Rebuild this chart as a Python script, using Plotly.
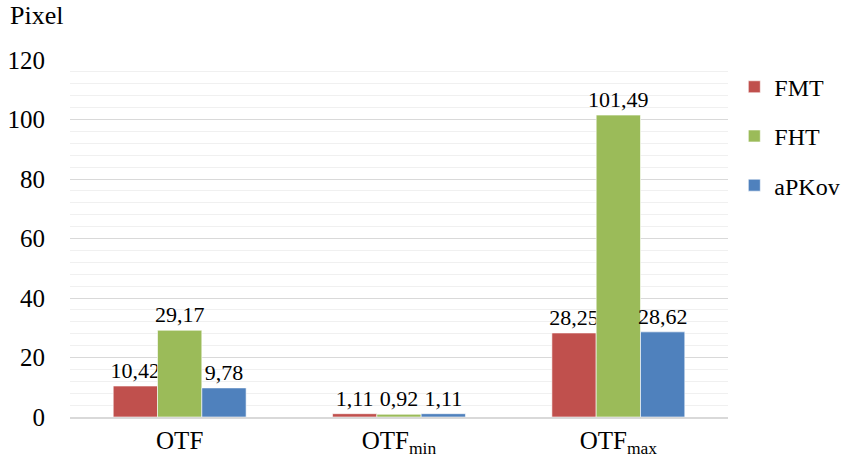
import plotly.graph_objects as go

categories = ["OTF", "OTF<sub>min</sub>", "OTF<sub>max</sub>"]
series_names = ["FMT", "FHT", "aPKov"]
fmt_values = [10.42, 1.11, 28.25]
fht_values = [29.17, 0.92, 101.49]
apkov_values = [9.78, 1.11, 28.62]
y_ticks = [0, 20, 40, 60, 80, 100, 120]

colors = ["#C0504D", "#9BBB59", "#4F81BD"]
FONT = "Liberation Serif"

fig = go.Figure()
for i, (name, vals) in enumerate(zip(series_names, [fmt_values, fht_values, apkov_values])):
    fig.add_trace(go.Bar(
        name=name,
        x=categories,
        y=vals,
        marker=dict(color=colors[i], line=dict(color="rgba(255,255,255,0.6)", width=1)),
        texttemplate="%{y:.2f}",
        textposition="outside",
        textfont=dict(family=FONT, size=22, color="#000000"),
        constraintext="none",
        cliponaxis=False,
        legendgroup=name,
    ))

fig.update_layout(
    width=845,
    height=462,
    separators=", ",
    barmode="group",
    bargap=0.394,
    bargroupgap=0,
    plot_bgcolor="white",
    paper_bgcolor="white",
    font=dict(family=FONT, size=24, color="#000000"),
    margin=dict(l=70, r=117, t=60, b=45, autoexpand=False),
    showlegend=True,
    legend=dict(
        xref="container", yref="container",
        x=0.869, xanchor="left", y=0.86, yanchor="top",
        font=dict(family=FONT, size=24),
        tracegroupgap=15,
        itemwidth=30,
        bgcolor="rgba(0,0,0,0)",
    ),
    xaxis=dict(
        showgrid=False,
        showline=True,
        linecolor="#D9D9D9",
        linewidth=1.5,
        ticks="",
        tickfont=dict(family=FONT, size=25),
    ),
    yaxis=dict(
        range=[0, 120],
        tickvals=y_ticks,
        showgrid=True,
        gridcolor="#D9D9D9",
        gridwidth=1,
        minor=dict(dtick=4, showgrid=True, gridcolor="#F0F0F0", gridwidth=1),
        zeroline=False,
        showline=False,
        ticks="",
        ticklabelstandoff=24,
        tickfont=dict(family=FONT, size=25),
    ),
    annotations=[dict(
        text="Pixel", xref="paper", yref="paper",
        x=0, y=1.0, xshift=-62, yshift=45, xanchor="left", yanchor="middle",
        showarrow=False, font=dict(family=FONT, size=26),
    )],
)

fig.write_html("out.html")
